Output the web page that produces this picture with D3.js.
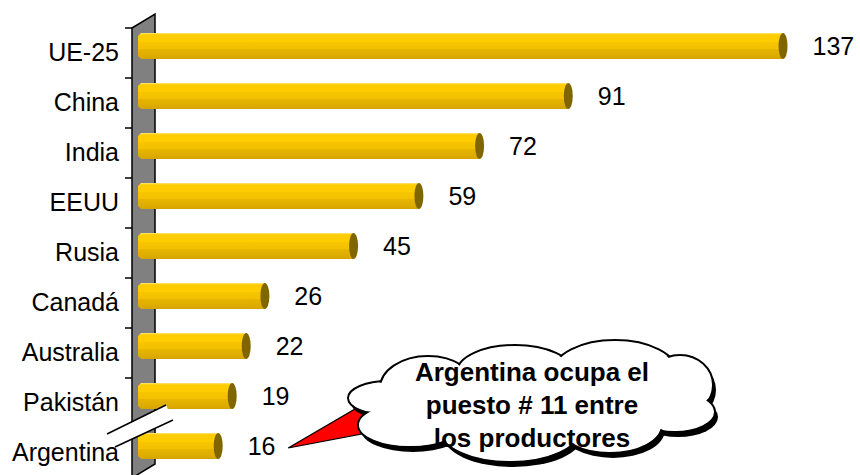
<!DOCTYPE html>
<html>
<head>
<meta charset="utf-8">
<script src="https://cdn.jsdelivr.net/npm/d3@7.9.0/dist/d3.min.js"></script>
<style>
  body { margin: 0; background: #fff; }
  text { font-family: Arial, "Liberation Sans", sans-serif; }
</style>
</head>
<body>
<svg id="chart" width="860" height="475"></svg>
<script>
const categories = ["UE-25", "China", "India", "EEUU", "Rusia", "Canadá", "Australia", "Pakistán", "Argentina"];
const values = [137, 91, 72, 59, 45, 26, 22, 19, 16];
const calloutLines = ["Argentina ocupa el", "puesto # 11 entre", "los productores"];

const svg = d3.select("#chart");
const x0 = 132;              // front plane of the wall
const depth = { dx: 23, dy: -14 };
const mid = { dx: depth.dx / 2, dy: depth.dy / 2 };
const barHalf = 13;

const x = d3.scaleLinear().domain([0, 150]).range([x0, x0 + 150 * 4.668]);
const y = d3.scaleBand().domain(categories).range([28, 478]);

// gradient for the bars
const defs = svg.append("defs");
const grad = defs.append("linearGradient")
  .attr("id", "barGrad").attr("x1", 0).attr("y1", 0).attr("x2", 0).attr("y2", 1);
[
  [0, "#ffe680"], [0.07, "#ffcc00"], [0.33, "#ffcc00"], [0.34, "#f7c500"],
  [0.62, "#f2c000"], [0.63, "#e6b500"], [0.88, "#ddab00"], [1, "#d4a300"]
].forEach(([o, c]) => grad.append("stop").attr("offset", o).attr("stop-color", c));

// wall
svg.append("path")
  .attr("d", `M${x0},${y.range()[0]} L${x0 + depth.dx},${y.range()[0] + depth.dy} L${x0 + depth.dx},${y.range()[1] + depth.dy} L${x0},${y.range()[1]} Z`)
  .attr("fill", "#808080")
  .attr("stroke", "#000")
  .attr("stroke-width", 1.5);

// ticks at band boundaries
svg.append("g").selectAll("line")
  .data(categories)
  .join("line")
  .attr("x1", x0 - 7).attr("x2", x0)
  .attr("y1", d => y(d)).attr("y2", d => y(d))
  .attr("stroke", "#000").attr("stroke-width", 1.5);

// category labels
const axis = svg.append("g")
  .attr("transform", `translate(${x0},0)`)
  .call(d3.axisLeft(y).tickSize(0).tickPadding(13));
axis.select(".domain").remove();
axis.selectAll("text")
  .attr("font-size", 25)
  .attr("font-family", "Arial, 'Liberation Sans', sans-serif")
  .attr("fill", "#000");

// bars
const bars = svg.append("g").selectAll("g")
  .data(values.map((v, i) => ({ cat: categories[i], v })))
  .join("g");

bars.append("path")
  .attr("fill", "url(#barGrad)")
  .attr("d", d => {
    const c = y(d.cat) + y.bandwidth() / 2 + mid.dy;
    const t = c - barHalf, b = c + barHalf;
    const xs = x0 + 6, xe = x(d.v) + mid.dx;
    return `M${xs},${t + 3} L${xs + 3},${t} L${xe},${t} L${xe},${b} L${xs + 3},${b} L${xs},${b - 3} Z`;
  });

bars.append("ellipse")
  .attr("cx", d => x(d.v) + mid.dx)
  .attr("cy", d => y(d.cat) + y.bandwidth() / 2 + mid.dy)
  .attr("rx", 4.5)
  .attr("ry", barHalf)
  .attr("fill", "#806600");

bars.append("text")
  .attr("x", d => x(d.v) + mid.dx + 4.5 + 25)
  .attr("y", d => y(d.cat) + y.bandwidth() / 2 + mid.dy)
  .attr("dy", "0.36em")
  .attr("font-size", 25)
  .text(d => d.v);

// axis break
const bk = y(categories[8]);
svg.append("path")
  .attr("d", `M107,${bk + 6} L166,${bk - 23} L173,${bk - 8} L115,${bk + 19} Z`)
  .attr("fill", "#fff");
svg.append("g").selectAll("line")
  .data([[107, bk + 6, 166, bk - 23], [115, bk + 19, 173, bk - 8]])
  .join("line")
  .attr("x1", d => d[0]).attr("y1", d => d[1])
  .attr("x2", d => d[2]).attr("y2", d => d[3])
  .attr("stroke", "#000").attr("stroke-width", 1.5);

// callout
const argY = y("Argentina") + y.bandwidth() / 2 + mid.dy;
const tipX = x(16) + mid.dx + 70;
svg.append("path")
  .attr("d", `M${tipX},${argY + 2} L362,405 L372,432 Z`)
  .attr("fill", "#ff0000")
  .attr("stroke", "#000")
  .attr("stroke-width", 1.2);

const puffs = [
  [388, 398, 40, 17], [428, 388, 48, 32], [515, 372, 58, 27], [615, 372, 62, 32],
  [680, 385, 33, 30], [675, 412, 40, 20], [610, 425, 52, 28], [510, 430, 70, 32],
  [410, 425, 52, 22]
];
const cloud = svg.append("g");
cloud.append("g").selectAll("ellipse").data(puffs).join("ellipse")
  .attr("cx", d => d[0] + 3).attr("cy", d => d[1] + 5)
  .attr("rx", d => d[2]).attr("ry", d => d[3])
  .attr("fill", "#000");
cloud.append("g").selectAll("ellipse").data(puffs).join("ellipse")
  .attr("cx", d => d[0]).attr("cy", d => d[1])
  .attr("rx", d => d[2]).attr("ry", d => d[3])
  .attr("fill", "#fff").attr("stroke", "#000").attr("stroke-width", 2);
cloud.append("g").selectAll("ellipse").data(puffs).join("ellipse")
  .attr("cx", d => d[0]).attr("cy", d => d[1])
  .attr("rx", d => d[2] - 1.5).attr("ry", d => d[3] - 1.5)
  .attr("fill", "#fff");
cloud.append("ellipse")
  .attr("cx", 530).attr("cy", 405).attr("rx", 130).attr("ry", 38)
  .attr("fill", "#fff");

cloud.append("g").selectAll("text").data(calloutLines).join("text")
  .attr("x", 532)
  .attr("y", (d, i) => 381 + i * 33)
  .attr("text-anchor", "middle")
  .attr("font-size", 26)
  .attr("font-weight", "bold")
  .text(d => d);
</script>
</body>
</html>
